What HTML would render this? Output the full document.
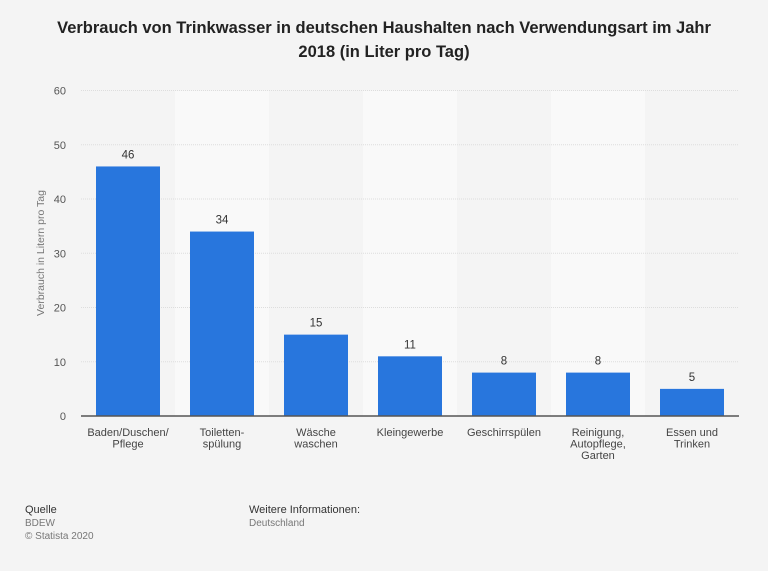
<!DOCTYPE html>
<html><head><meta charset="utf-8"><style>
body{margin:0;width:768px;height:571px;background:#f4f4f4;font-family:"Liberation Sans",sans-serif;overflow:hidden}
svg{display:block}
</style></head><body>
<svg width="768" height="571">
<text x="384" y="33" text-anchor="middle" font-size="16.5" font-weight="bold" fill="#222">Verbrauch von Trinkwasser in deutschen Haushalten nach Verwendungsart im Jahr</text>
<text x="384" y="57" text-anchor="middle" font-size="16.5" font-weight="bold" fill="#222">2018 (in Liter pro Tag)</text>
<g id="stripes"></g><g id="grid"></g><g id="bars"></g>
<text transform="translate(44,253) rotate(-90)" text-anchor="middle" font-size="10.5" fill="#777">Verbrauch in Litern pro Tag</text>
<text x="25" y="513" font-size="11" fill="#333">Quelle</text>
<text x="25" y="526" font-size="10" fill="#777">BDEW</text>
<text x="25" y="539" font-size="10" fill="#777">© Statista 2020</text>
<text x="249" y="513" font-size="11" fill="#333">Weitere Informationen:</text>
<text x="249" y="526" font-size="10" fill="#777">Deutschland</text>
</svg>
<script>
const categories=[["Baden/Duschen/","Pflege"],["Toiletten-","spülung"],["Wäsche","waschen"],["Kleingewerbe"],["Geschirrspülen"],["Reinigung,","Autopflege,","Garten"],["Essen und","Trinken"]];
const values=[46,34,15,11,8,8,5];
const yTicks=[0,10,20,30,40,50,60];
const NS="http://www.w3.org/2000/svg";
const x0=81,band=94,y0=416,yTop=90.5,yMax=60;
const y=v=>y0-(y0-yTop)*v/yMax;
function mk(t,a,p){const e=document.createElementNS(NS,t);for(const k in a)e.setAttribute(k,a[k]);p.appendChild(e);return e;}
const S=document.getElementById('stripes'),G=document.getElementById('grid'),B=document.getElementById('bars');
categories.forEach((c,i)=>{if(i%2==1){const r=mk('rect',{x:x0+i*band,y:yTop,width:band,height:y0-yTop,fill:'#f9f9f9'},S);

}});
yTicks.forEach(t=>{const l=mk('line',{x1:x0,x2:x0+band*7,y1:y(t),y2:y(t),stroke:'#ddd','stroke-dasharray':'1,1'},G);


const tx=mk('text',{x:66,y:y(t)+4,'text-anchor':'end','font-size':'11',fill:'#555'},G);tx.textContent=t;

});
categories.forEach((c,i)=>{const cx=x0+i*band+band/2;
const r=mk('rect',{x:cx-32,y:y(values[i]),width:64,height:y0-y(values[i]),fill:'#2876dd'},B);


const v=mk('text',{x:cx,y:y(values[i])-8,'text-anchor':'middle','font-size':'11.5',fill:'#333'},B);v.textContent=values[i];


c.forEach((s,j)=>{const t=mk('text',{x:cx,y:436+j*11.5,'text-anchor':'middle','font-size':'11',fill:'#444'},B);t.textContent=s;

});});
const ax=mk('line',{x1:x0,x2:x0+band*7,y1:y0,y2:y0,stroke:'#555','stroke-width':1.5},B);


</script>
</body></html>
